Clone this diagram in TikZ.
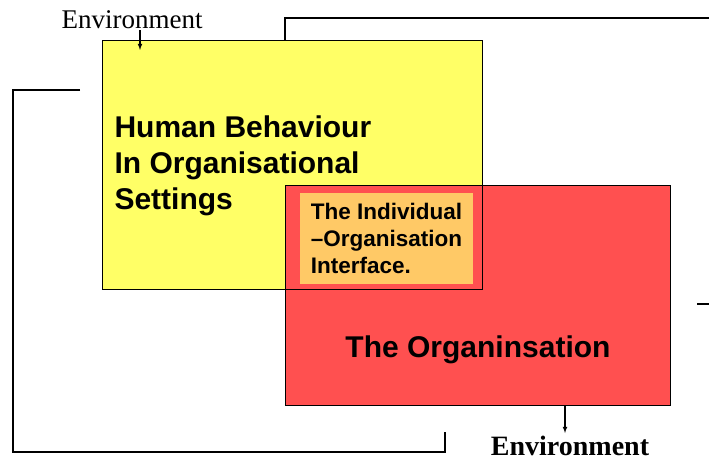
\documentclass[tikz,border=0pt]{standalone}
\usepackage{fontspec}
\setmainfont{Liberation Serif}
\setsansfont{Liberation Sans}
\usetikzlibrary{positioning}
\tikzset{>=latex}
\definecolor{yellowbox}{HTML}{FFFF66}
\definecolor{redbox}{HTML}{FF5050}
\definecolor{orangebox}{HTML}{FFC966}

\begin{document}
\begin{tikzpicture}[x=1pt,y=-1pt,
					panel/.style={rectangle,inner sep=0pt,line width=1.2pt},
					bigtext/.style={font=\sffamily\bfseries\fontsize{30}{36}\selectfont,align=left},
					smalltext/.style={font=\sffamily\bfseries\fontsize{22.5}{27}\selectfont,align=left},
					feedback/.style={line width=1.1pt}
				]
				\useasboundingbox (0,0) rectangle (709,462);
				\node (behaviour) at (292.5,165) [panel,fill=yellowbox,minimum width=379pt,minimum height=248pt]{};
				\node (organisation) at (478,295.5) [panel,fill=redbox,minimum width=384pt,minimum height=219pt]{};
				\node (interface) at (386.5,238.5) [panel,fill=orangebox,minimum width=173pt,minimum height=91pt,smalltext]{The Individual\\--Organisation\\Interface.};
				\draw [line width=1.2pt] (organisation.north west) rectangle (organisation.south east);
				\draw [line width=1.2pt] (behaviour.north west) rectangle (behaviour.south east);
				\node (behaviourtitle) at (111,166) [anchor=west,bigtext]{Human Behaviour\\In Organisational\\Settings};
				\node (organisationtitle) at (478,350) [bigtext]{The Organinsation};
				\node (envtop) at (132,20) [font=\fontsize{27}{30}\selectfont,inner sep=1pt]{Environment};
				\node (envbottom) at (570,446) [font=\bfseries\fontsize{28}{30}\selectfont]{Environment};
				\coordinate (envin) at (140,50);
				\coordinate (envout) at (565,433);
				\coordinate (topend) at (709,18);
				\coordinate (loopstart) at (80,90);
				\coordinate (loopend) at (445,432);
				\coordinate (stubstart) at (697,304);
				\coordinate (stubend) at (709,304);
				\draw [->,feedback] (envtop.south -| envin) -- (envin);
				\draw [->,feedback] (organisation.south -| envout) -- (envout);
				\draw [feedback] (behaviour.north -| 285,0) |- (topend);
				\draw [feedback] (loopstart) -| (13,452) -| (loopend);
				\draw [feedback] (stubstart) -- (stubend);
\end{tikzpicture}
\end{document}
